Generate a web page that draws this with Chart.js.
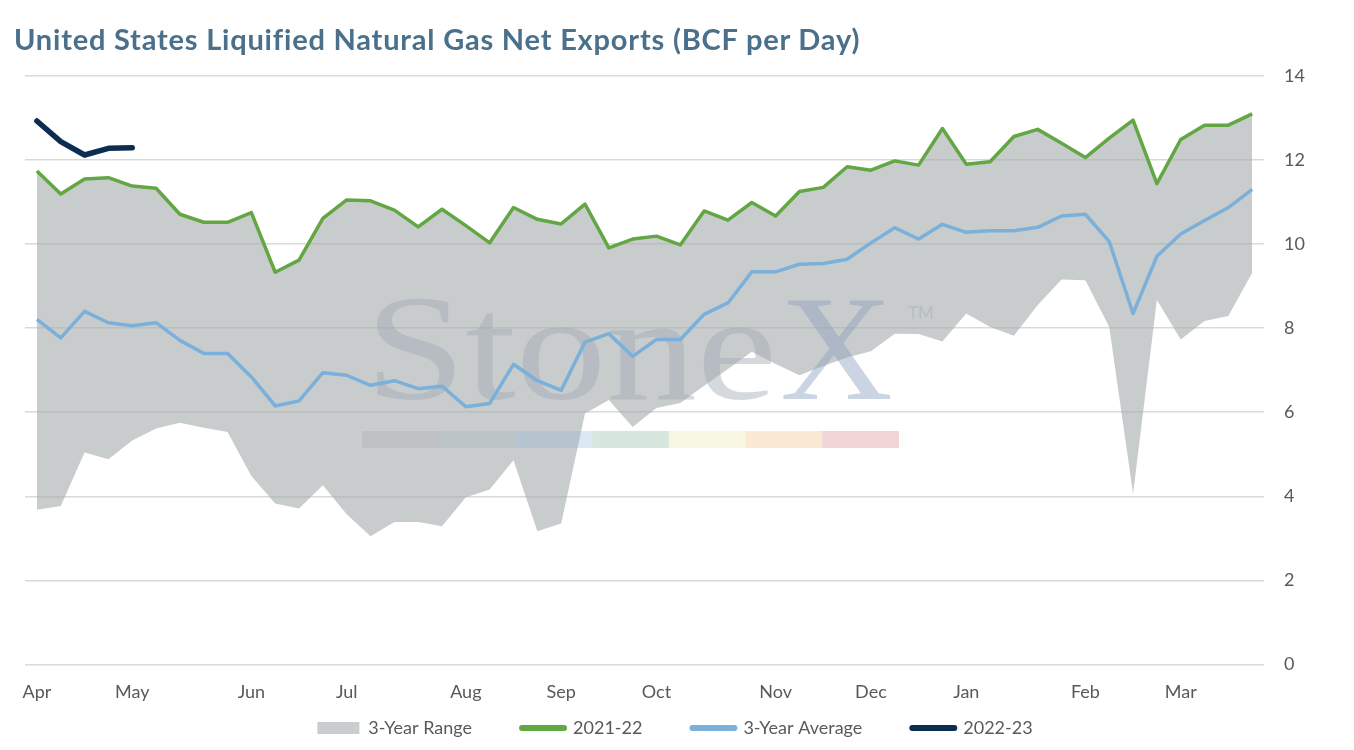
<!DOCTYPE html>
<html>
<head>
<meta charset="utf-8">
<script src="https://cdn.jsdelivr.net/npm/chart.js@4.4.0/dist/chart.umd.min.js"></script>
<style>
  html, body { margin: 0; padding: 0; background: #fff; }
  #wrap { position: relative; width: 1354px; height: 750px; }
  #title { position: absolute; left: 14px; top: 24px; font: bold 29px Lato, sans-serif; letter-spacing: 0.8px; line-height: 1; color: #4A708B; white-space: nowrap; }
  canvas { display: block; }
</style>
</head>
<body>
<div id="wrap">
  <div id="title">United States Liquified Natural Gas Net Exports (BCF per Day)</div>
  <canvas id="chart" width="1354" height="750"></canvas>
</div>
<script>
// === Data ===
const monthNames = ['Apr', 'May', 'Jun', 'Jul', 'Aug', 'Sep', 'Oct', 'Nov', 'Dec', 'Jan', 'Feb', 'Mar'];
const monthWeek = [0, 4, 9, 13, 18, 22, 26, 31, 35, 39, 44, 48];
const WEEKS = 52;

// bottom edge of the 3-year range (top edge follows 2021-22)
const range3yLow = [3.68, 3.77, 5.04, 4.88, 5.33, 5.61, 5.75, 5.63, 5.53, 4.48, 3.83, 3.71, 4.26, 3.57, 3.05, 3.39, 3.39, 3.29,
  3.98, 4.16, 4.86, 3.17, 3.35, 5.97, 6.29, 5.65, 6.10, 6.22, 6.63, 7.03, 7.44, 7.15, 6.88, 7.10, 7.30, 7.45,
  7.87, 7.86, 7.68, 8.35, 8.03, 7.82, 8.55, 9.16, 9.14, 8.03, 4.06, 8.67, 7.73, 8.17, 8.29, 9.32];

const exports2122 = [11.74, 11.19, 11.55, 11.58, 11.38, 11.33, 10.71, 10.52, 10.52, 10.75, 9.33, 9.62, 10.61, 11.05, 11.03, 10.81, 10.41, 10.83,
  10.44, 10.03, 10.87, 10.59, 10.48, 10.95, 9.91, 10.12, 10.19, 9.98, 10.79, 10.57, 10.99, 10.67, 11.25, 11.35, 11.84, 11.76,
  11.98, 11.88, 12.75, 11.90, 11.96, 12.56, 12.73, 12.40, 12.06, 12.52, 12.95, 11.44, 12.49, 12.83, 12.83, 13.10];

const average3y = [8.21, 7.77, 8.40, 8.13, 8.06, 8.13, 7.71, 7.40, 7.40, 6.84, 6.15, 6.27, 6.94, 6.88, 6.64, 6.75, 6.56, 6.62,
  6.13, 6.21, 7.14, 6.75, 6.52, 7.67, 7.87, 7.33, 7.73, 7.73, 8.33, 8.60, 9.34, 9.34, 9.52, 9.54, 9.64, 10.03,
  10.39, 10.12, 10.47, 10.28, 10.32, 10.32, 10.40, 10.67, 10.71, 10.06, 8.35, 9.71, 10.24, 10.56, 10.87, 11.30];

const exports2223 = [12.93, 12.44, 12.12, 12.28, 12.29];

const weekLabels = Array.from({ length: WEEKS }, (_, i) => {
  const m = monthWeek.indexOf(i);
  return m >= 0 ? monthNames[m] : '';
});

const FONT = 'Lato, "Open Sans", sans-serif';
const TEXT_GREY = '#595959';

// === StoneX watermark, drawn over the range fill but under the lines ===
const watermark = {
  id: 'watermark',
  afterDatasetDraw(chart, args) {
    if (args.index !== 0) return;
    const { ctx, chartArea: a } = chart;
    const x0 = a.left + 340, base = a.top + 323;
    const serif = '150px "Liberation Serif", "DejaVu Serif", serif';

    ctx.save();
    ctx.font = serif;
    ctx.textBaseline = 'alphabetic';
    ctx.textAlign = 'left';
    const sw = ctx.measureText('Stone').width;
    ctx.translate(x0, base);
    ctx.scale(412 / sw, 1);
    ctx.fillStyle = 'rgba(160,170,180,0.45)';
    ctx.fillText('Stone', 0, 0);
    ctx.restore();

    ctx.save();
    ctx.font = serif;
    ctx.textBaseline = 'alphabetic';
    ctx.textAlign = 'left';
    const xw = ctx.measureText('X').width;
    ctx.translate(x0 + 415, base);
    ctx.scale(113 / xw, 1);
    ctx.fillStyle = 'rgba(140,160,190,0.45)';
    ctx.fillText('X', 0, 0);
    ctx.restore();

    ctx.save();
    ctx.font = '17px ' + FONT;
    ctx.textBaseline = 'alphabetic';
    ctx.textAlign = 'left';
    ctx.fillStyle = 'rgba(160,170,180,0.45)';
    ctx.fillText('TM', x0 + 543, a.top + 243);
    ctx.restore();

    const bar = ['rgba(150,158,165,0.25)', 'rgba(150,170,180,0.25)', 'rgba(140,180,215,0.3)', 'rgba(110,165,135,0.28)',
      'rgba(225,220,120,0.22)', 'rgba(240,165,75,0.24)', 'rgba(205,90,95,0.25)'];
    const segW = 537 / bar.length;
    ctx.save();
    bar.forEach((c, i) => {
      ctx.fillStyle = c;
      ctx.fillRect(a.left + 337 + i * segW, a.top + 355, segW, 17);
    });
    ctx.restore();
  }
};

new Chart(document.getElementById('chart').getContext('2d'), {
  type: 'line',
  data: {
    labels: weekLabels,
    datasets: [
      {
        label: '3-Year Range',
        data: range3yLow,
        fill: 1,
        backgroundColor: 'rgba(168,173,175,0.62)',
        borderWidth: 0,
        pointRadius: 0,
        order: 1
      },
      {
        label: '2021-22',
        data: exports2122,
        borderColor: '#62A744',
        borderWidth: 3.5,
        borderJoinStyle: 'round',
        pointRadius: 0,
        fill: false,
        order: 0
      },
      {
        label: '3-Year Average',
        data: average3y,
        borderColor: '#7AB0D9',
        borderWidth: 3.5,
        borderJoinStyle: 'round',
        pointRadius: 0,
        fill: false,
        order: 0
      },
      {
        label: '2022-23',
        data: exports2223,
        borderColor: '#0C2D50',
        borderWidth: 5.5,
        borderCapStyle: 'round',
        borderJoinStyle: 'round',
        pointRadius: 0,
        fill: false,
        order: 0
      }
    ]
  },
  options: {
    responsive: false,
    animation: false,
    devicePixelRatio: 1,
    layout: { padding: { top: 76, left: 25, right: 29, bottom: 3 } },
    plugins: {
      title: { display: false },
      tooltip: { enabled: false },
      legend: {
        position: 'bottom',
        // empty legend title with negative padding pulls the row up under the month labels
        title: { display: true, text: '', font: { size: 10 }, padding: { top: -63, bottom: 0 } },
        labels: {
          usePointStyle: true,
          pointStyleWidth: 42,
          boxHeight: 12,
          padding: 50,
          color: TEXT_GREY,
          font: { family: FONT, size: 18 },
          sort: (a, b) => a.datasetIndex - b.datasetIndex,
          generateLabels: chart => {
            const items = Chart.defaults.plugins.legend.labels.generateLabels(chart);
            items.forEach(it => {
              const ds = chart.data.datasets[it.datasetIndex];
              if (it.datasetIndex === 0) {
                it.pointStyle = 'rect';
                it.fillStyle = '#C9CDCE';
                it.strokeStyle = '#C9CDCE';
                it.lineWidth = 0;
              } else {
                it.pointStyle = 'line';
                it.strokeStyle = ds.borderColor;
                it.lineWidth = 6;
                it.lineCap = 'round';
              }
            });
            return items;
          }
        }
      }
    },
    scales: {
      x: {
        offset: true,
        grid: { display: false, drawTicks: false },
        border: { display: false },
        ticks: { autoSkip: false, maxRotation: 0, padding: 17, color: TEXT_GREY, font: { family: FONT, size: 18 } }
      },
      y: {
        position: 'right',
        min: 0,
        max: 14,
        grid: { color: '#D9D9D9', lineWidth: 1.5, drawTicks: false },
        border: { display: false },
        ticks: { stepSize: 2, padding: 20, color: TEXT_GREY, font: { family: FONT, size: 18 } }
      }
    }
  },
  plugins: [watermark]
});
</script>
</body>
</html>
